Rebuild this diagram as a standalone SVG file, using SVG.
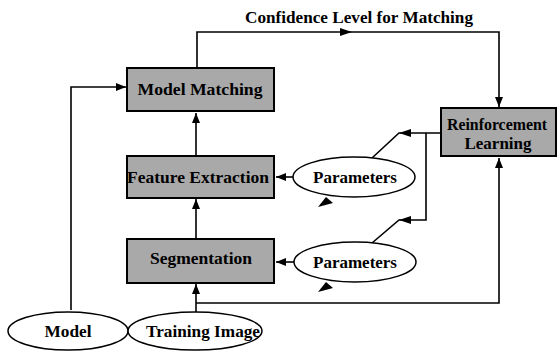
<svg xmlns="http://www.w3.org/2000/svg" width="559" height="351" viewBox="0 0 559 351">
<style>
.box{fill:#a9a9a9;stroke:#000;stroke-width:2}
.ell{fill:#fff;stroke:#000;stroke-width:1.5}
.t{font-family:"Liberation Serif","Times New Roman",serif;font-weight:bold;fill:#000;text-anchor:middle}
.bt{font-size:17px}
.et{font-size:17px}
.ln{fill:none;stroke:#000;stroke-width:1.6}
.ah{fill:#000}
</style>
<defs>
<marker id="arr" viewBox="0 0 10 8" refX="10" refY="4" markerWidth="10" markerHeight="8" markerUnits="userSpaceOnUse" orient="auto">
<path d="M0,0 L10,4 L0,8 z" fill="#000"/>
</marker>
</defs>
<rect width="559" height="351" fill="#fff"/>
<text class="t" x="359" y="23" font-size="16" textLength="228" lengthAdjust="spacingAndGlyphs">Confidence Level for Matching</text>
<g id="connectors">
<path class="ln" d="M71,310 V87 H126" marker-end="url(#arr)"/>
<path class="ln" d="M196,155 V113" marker-end="url(#arr)"/>
<path class="ln" d="M196,239 V199" marker-end="url(#arr)"/>
<path class="ln" d="M196,312 V284" marker-end="url(#arr)"/>
<path class="ln" d="M197,68 V32 H499 V107" marker-end="url(#arr)"/>
<path class="ah" d="M352,32 L340,28 L340,36 z"/>
<path class="ln" d="M293,177 H276" marker-end="url(#arr)"/>
<path class="ln" d="M294,262 H276" marker-end="url(#arr)"/>
<path class="ln" d="M440,133 H399 L372,158"/>
<path class="ah" d="M399,133 L411,129 L411,137 z"/>
<path class="ln" d="M426,133 V220 H399 L372,243"/>
<path class="ah" d="M399,220 L411,216 L411,224 z"/>
<path class="ln" d="M196,303 H499 V158" marker-end="url(#arr)"/>
<path class="ah" d="M318,207 L326,197 L333,203 z"/>
<path class="ah" d="M318,292 L326,282 L333,288 z"/>
</g>
<g id="model-matching">
<rect class="box" x="127" y="68" width="147" height="43"/>
<text class="t bt" x="200" y="95" textLength="125" lengthAdjust="spacingAndGlyphs">Model Matching</text>
</g>
<g id="feature-extraction">
<rect class="box" x="127" y="156" width="147" height="42"/>
<text class="t bt" x="198" y="183" textLength="142" lengthAdjust="spacingAndGlyphs">Feature Extraction</text>
</g>
<g id="segmentation">
<rect class="box" x="127" y="239" width="147" height="44"/>
<text class="t bt" x="201" y="264" textLength="102" lengthAdjust="spacingAndGlyphs">Segmentation</text>
</g>
<g id="reinforcement-learning">
<rect class="box" x="441" y="108" width="115" height="48"/>
<text class="t bt" x="497" y="130" textLength="100" lengthAdjust="spacingAndGlyphs">Reinforcement</text>
<text class="t bt" x="498" y="149" textLength="67" lengthAdjust="spacingAndGlyphs">Learning</text>
</g>
<g id="parameters-1">
<ellipse class="ell" cx="354" cy="177" rx="61" ry="20"/>
<text class="t et" x="355" y="183" textLength="84" lengthAdjust="spacingAndGlyphs">Parameters</text>
</g>
<g id="parameters-2">
<ellipse class="ell" cx="355" cy="262" rx="61" ry="20"/>
<text class="t et" x="355" y="268" textLength="84" lengthAdjust="spacingAndGlyphs">Parameters</text>
</g>
<g id="model">
<ellipse class="ell" cx="68" cy="331" rx="60" ry="19"/>
<text class="t et" x="68" y="337" textLength="47" lengthAdjust="spacingAndGlyphs">Model</text>
</g>
<g id="training-image">
<ellipse class="ell" cx="195" cy="331" rx="67" ry="19"/>
<text class="t et" x="203" y="337" textLength="114" lengthAdjust="spacingAndGlyphs">Training Image</text>
</g>
</svg>
